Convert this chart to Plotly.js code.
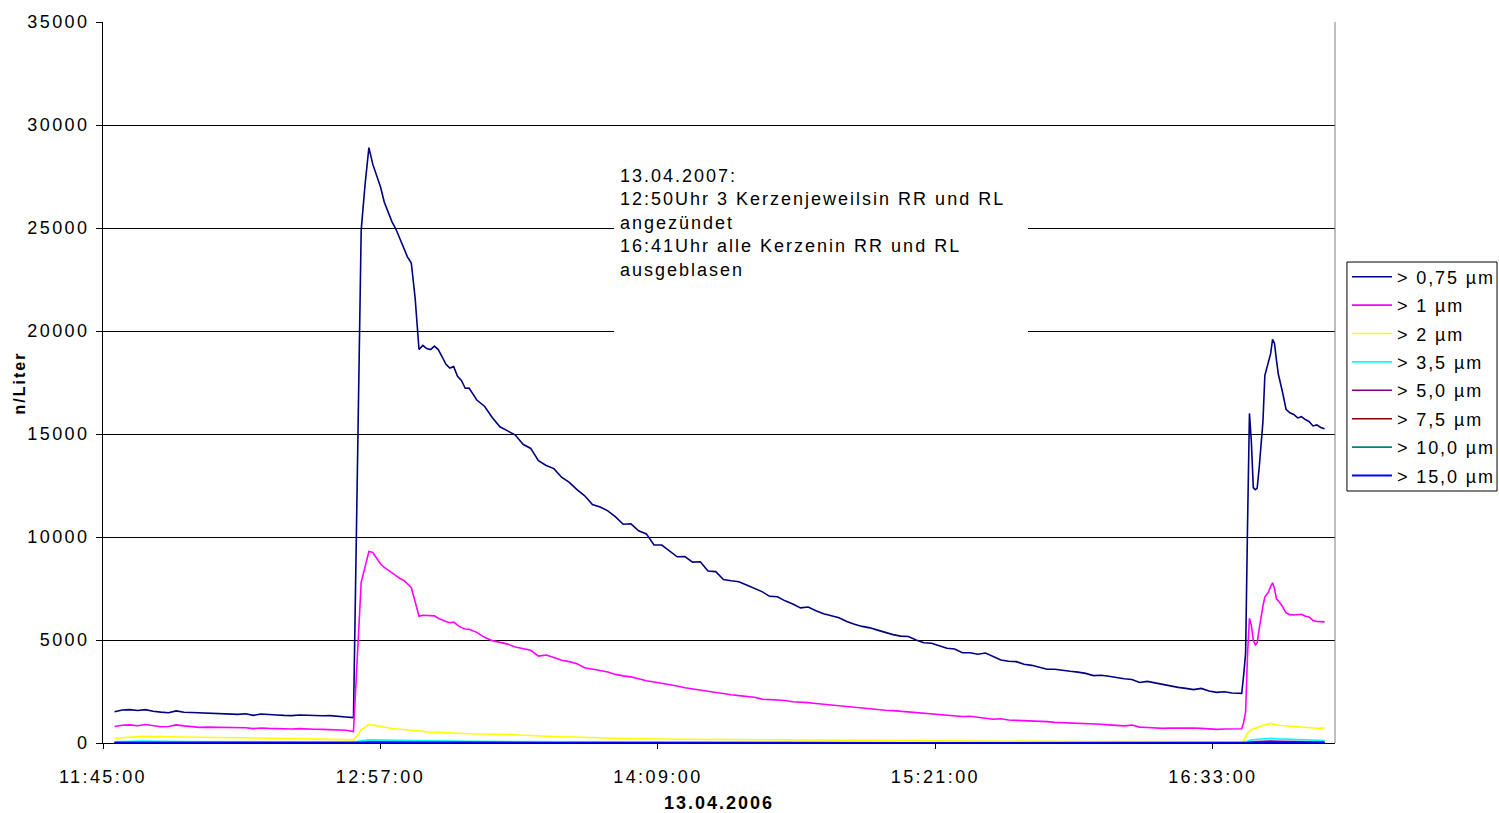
<!DOCTYPE html>
<html><head><meta charset="utf-8">
<script src="https://cdn.plot.ly/plotly-3.0.1.min.js"></script>
<style>
html,body{margin:0;padding:0;background:#fff;}
#chart{width:1499px;height:813px;}
.xtick text,.ytick text{letter-spacing:2.4px;}
.legendtext{letter-spacing:1.9px;}
.annotation-text{letter-spacing:2px;}
.xtitle{letter-spacing:2px;}
</style></head><body><div id="chart"></div><script>
const day = '2006-04-13';

// fine time base for the two large series
const timesFine = [
'11:48:00','11:50:00','11:52:00','11:54:00','11:56:00','11:58:00','12:00:00','12:02:00','12:04:00','12:06:00',
'12:08:00','12:10:00','12:12:00','12:14:00','12:16:00','12:18:00','12:20:00','12:22:00','12:24:00','12:26:00',
'12:28:00','12:30:00','12:32:00','12:34:00','12:36:00','12:38:00','12:40:00','12:42:00','12:44:00','12:46:00',
'12:48:00','12:50:00',
'12:51:00','12:52:00','12:53:00','12:54:00','12:55:00','12:56:00','12:57:00','12:58:00','12:59:00','13:00:00',
'13:01:00','13:02:00','13:03:00','13:04:00','13:05:00','13:06:00','13:07:00','13:08:00','13:09:00','13:10:00',
'13:11:00','13:12:00','13:13:00','13:14:00','13:15:00','13:16:00','13:17:00','13:18:00','13:19:00','13:20:00',
'13:22:00','13:24:00','13:26:00','13:28:00','13:30:00','13:32:00','13:34:00','13:36:00','13:38:00','13:40:00',
'13:42:00','13:44:00','13:46:00','13:48:00','13:50:00','13:52:00','13:54:00','13:56:00','13:58:00',
'14:00:00','14:02:00','14:04:00','14:06:00','14:08:00','14:10:00','14:12:00','14:14:00','14:16:00','14:18:00',
'14:20:00','14:22:00','14:24:00','14:26:00','14:28:00','14:30:00','14:32:00','14:34:00','14:36:00','14:38:00',
'14:40:00','14:42:00','14:44:00','14:46:00','14:48:00','14:50:00','14:52:00','14:54:00','14:56:00','14:58:00',
'15:00:00','15:02:00','15:04:00','15:06:00','15:08:00','15:10:00','15:12:00','15:14:00','15:16:00','15:18:00',
'15:20:00','15:22:00','15:24:00','15:26:00','15:28:00','15:30:00','15:32:00','15:34:00','15:36:00','15:38:00',
'15:40:00','15:42:00','15:44:00','15:46:00','15:48:00','15:50:00','15:52:00','15:54:00','15:56:00','15:58:00',
'16:00:00','16:02:00','16:04:00','16:06:00','16:08:00','16:10:00','16:12:00','16:14:00','16:16:00','16:18:00',
'16:20:00','16:22:00','16:24:00','16:26:00','16:28:00','16:30:00','16:32:00','16:34:00','16:36:00','16:38:00',
'16:40:00',
'16:40:30','16:41:00','16:41:30','16:42:00','16:42:30','16:43:00','16:43:30','16:44:00','16:44:30','16:45:00',
'16:45:30','16:46:00','16:46:30','16:47:00','16:47:30','16:48:00','16:48:30','16:49:00','16:49:30','16:50:00',
'16:51:00','16:52:00','16:53:00','16:54:00','16:55:00','16:56:00','16:57:00','16:58:00','16:59:00','17:00:00',
'17:01:00','17:02:00'
];

const v075 = [
1520,1600,1620,1580,1620,1540,1500,1470,1560,1490,1480,1470,1440,1430,1410,1400,1390,1420,1340,1410,
1370,1360,1340,1330,1360,1350,1310,1320,1330,1280,1260,1230,
12900,24900,27100,28900,28100,27500,27000,26250,25800,25300,24950,24500,24050,23600,23300,21600,19100,19300,19150,19100,
19270,19100,18750,18380,18200,18270,17800,17600,17220,17230,
16650,16350,15800,15350,15150,14950,14500,14300,13700,13470,
13320,12900,12650,12300,12000,11580,11460,11270,10980,10620,
10640,10300,10150,9610,9610,9320,9040,9050,8780,8800,
8350,8320,7940,7880,7830,7670,7520,7350,7120,7100,
6900,6750,6560,6600,6420,6270,6180,6080,5900,5760,
5660,5590,5480,5360,5260,5190,5170,5000,4870,4840,
4720,4600,4560,4380,4380,4310,4370,4190,4030,3970,
3950,3820,3770,3680,3580,3580,3520,3480,3440,3380,
3270,3290,3240,3170,3120,3080,2940,2990,2920,2830,
2750,2700,2650,2590,2650,2520,2460,2490,2430,2410,
2410,3300,4350,10500,16000,14600,12400,12300,12360,13300,
14400,15600,17850,18200,18450,18900,19600,19400,18600,17900,
17100,16200,16030,15950,15780,15840,15700,15600,15390,15440,15320,15250
];

const v1 = [
800,860,880,840,900,830,790,800,880,830,790,760,770,770,750,740,760,740,700,730,
710,690,690,680,700,670,670,660,650,640,620,560,
4300,7800,8550,9300,9250,8950,8700,8520,8380,8260,8100,7990,7900,7740,7550,6860,6150,6200,6200,6200,
6170,6060,5960,5900,5840,5870,5720,5600,5530,5520,
5370,5130,4970,4900,4800,4660,4570,4500,4220,4270,
4150,4020,3950,3850,3650,3570,3520,3450,3330,3260,
3210,3120,3020,2960,2900,2850,2770,2680,2620,2570,
2500,2440,2400,2340,2300,2260,2220,2130,2110,2080,
2060,2000,1990,1960,1920,1880,1840,1800,1790,1740,
1690,1660,1620,1590,1570,1540,1500,1470,1450,1420,
1390,1370,1330,1290,1300,1240,1200,1150,1180,1120,
1100,1090,1070,1050,1040,1000,990,970,960,940,
920,910,880,870,830,870,770,750,720,710,
720,730,720,730,710,690,660,680,670,665,
690,1000,1500,4300,6050,5700,5000,4760,4850,5500,
6200,6650,7080,7200,7350,7590,7780,7500,7000,6900,
6650,6320,6230,6210,6240,6250,6150,6120,5950,5900,5890,5880
];

// coarse time base for the small series
const timesCoarse = [
'11:48:00','11:55:00','12:05:00','12:15:00','12:25:00','12:35:00','12:45:00','12:50:00','12:51:00','12:52:00',
'12:54:00','12:57:00','13:00:00','13:05:00','13:10:00','13:20:00','13:30:00','13:40:00','13:50:00','14:00:00',
'14:15:00','14:30:00','14:45:00','15:00:00','15:15:00','15:30:00','15:45:00','16:00:00','16:15:00','16:30:00',
'16:40:00','16:41:00','16:42:00','16:43:00','16:44:00','16:46:00','16:48:00','16:50:00','16:55:00','17:00:00',
'17:02:00'
];
const v2   = [230,320,290,250,240,210,190,150,380,640,900,800,700,620,530,450,410,330,270,220,180,160,140,120,100,90,80,70,70,60,60,100,480,660,710,850,950,860,770,715,720];
const v35  = [60,90,70,60,50,50,40,30,70,110,150,140,120,110,90,80,70,60,50,40,40,30,30,25,20,20,20,15,15,15,15,20,90,150,170,200,230,200,160,130,120];
const v50  = [30,40,30,30,25,25,20,15,30,45,60,55,50,45,40,35,30,25,20,18,15,12,12,10,10,8,8,7,6,6,6,8,35,60,70,80,90,80,65,55,50];
const v75  = [12,15,12,12,10,10,8,6,12,18,25,22,20,18,16,14,12,10,8,7,6,5,5,4,4,3,3,3,2,2,2,3,14,24,28,32,36,32,26,22,20];
const v100 = [6,8,6,6,5,5,4,3,6,9,12,11,10,9,8,7,6,5,4,4,3,3,2,2,2,2,1,1,1,1,1,2,7,12,14,16,18,16,13,11,10];
const v150 = [2,3,2,2,2,2,1,1,2,3,4,4,3,3,3,2,2,2,1,1,1,1,1,1,1,1,0,0,0,0,0,1,2,4,5,5,6,5,4,4,3];

const seriesNames = ['> 0,75 µm','> 1 µm','> 2 µm','> 3,5 µm','> 5,0 µm','> 7,5 µm','> 10,0 µm','> 15,0 µm'];
const seriesColors = ['#000080','#FF00FF','#FFFF00','#00FFFF','#800080','#800000','#008080','#0000FF'];
const seriesValues = [v075, v1, v2, v35, v50, v75, v100, v150];
const seriesTimes = [timesFine, timesFine, timesCoarse, timesCoarse, timesCoarse, timesCoarse, timesCoarse, timesCoarse];

const tickLabels = ['11:45:00','12:57:00','14:09:00','15:21:00','16:33:00'];
const yTicks = [0,5000,10000,15000,20000,25000,30000,35000];

const noteLines = ['13.04.2007:','12:50Uhr 3 Kerzenjeweilsin RR und RL','angezündet','16:41Uhr alle Kerzenin RR und RL','ausgeblasen'];
const yTitle = 'n/Liter';

const traces = seriesNames.map((n, i) => ({
  type: 'scatter', mode: 'lines', name: n, legendgroup: 'g' + i,
  x: seriesTimes[i].map(t => day + ' ' + t),
  y: seriesValues[i],
  line: {color: seriesColors[i], width: i === 7 ? 2 : 1.6},
  hoverinfo: 'skip'
}));

const layout = {
  width: 1499, height: 813,
  margin: {l: 103, r: 164, t: 22, b: 70, autoexpand: false},
  paper_bgcolor: '#fff', plot_bgcolor: '#fff',
  font: {family: 'Liberation Sans, Arial, sans-serif', size: 18, color: '#000'},
  showlegend: true,
  xaxis: {
    type: 'date',
    range: [day + ' 11:45:00', day + ' 17:04:42'],
    tickvals: tickLabels.map(t => day + ' ' + t),
    ticktext: tickLabels,
    ticks: 'outside', ticklen: 5, tickcolor: '#000', tickwidth: 1,
    showgrid: false, showline: true, linecolor: '#000', linewidth: 1,
    zeroline: false,
    ticklabelstandoff: 12,
    tickfont: {size: 18},
    title: {text: '13.04.2006', font: {size: 18, family: 'Liberation Sans, Arial, sans-serif', weight: 'bold'}, standoff: 10}
  },
  yaxis: {
    range: [0, 35000],
    tickvals: yTicks,
    ticktext: yTicks.map(String),
    ticks: 'outside', ticklen: 6, tickcolor: '#000', tickwidth: 1,
    showgrid: true, gridcolor: '#000', gridwidth: 1,
    showline: true, linecolor: '#000', linewidth: 1,
    zeroline: false,
    ticklabelstandoff: 3,
    tickfont: {size: 18}
  },
  legend: {
    x: 1.0097, xanchor: 'left', y: 0.672, yanchor: 'top',
    borderwidth: 0, bgcolor: 'rgba(0,0,0,0)',
    font: {size: 18, color: '#000'},
    tracegroupgap: 2, itemwidth: 40
  },
  shapes: [
    {type: 'rect', xref: 'paper', yref: 'y', x0: 0.4148, x1: 0.7508, y0: 19660, y1: 28786,
     fillcolor: '#fff', line: {width: 0}, layer: 'above'},
    {type: 'line', xref: 'paper', yref: 'paper', x0: 1, x1: 1, y0: 0, y1: 1,
     line: {color: '#808080', width: 1}},
    {type: 'rect', xref: 'paper', yref: 'paper', x0: 1.0097, x1: 1.1315, y0: 0.3495, y1: 0.6671,
     fillcolor: 'rgba(0,0,0,0)', line: {color: '#000', width: 1}, layer: 'above'}
  ],
  annotations: [
    {xref: 'paper', yref: 'y', x: 0.4188, y: 28050, xanchor: 'left', yanchor: 'top',
     text: noteLines.join('<br>'), align: 'left', showarrow: false, borderpad: 0,
     font: {size: 18, color: '#000'}},
    {xref: 'paper', yref: 'paper', x: -0.0674, y: 0.5, xanchor: 'center', yanchor: 'middle',
     text: '<b>' + yTitle + '</b>', textangle: -90, showarrow: false,
     font: {size: 16, color: '#000'}}
  ]
};

Plotly.newPlot('chart', traces, layout, {staticPlot: true, displayModeBar: false});
</script></body></html>
